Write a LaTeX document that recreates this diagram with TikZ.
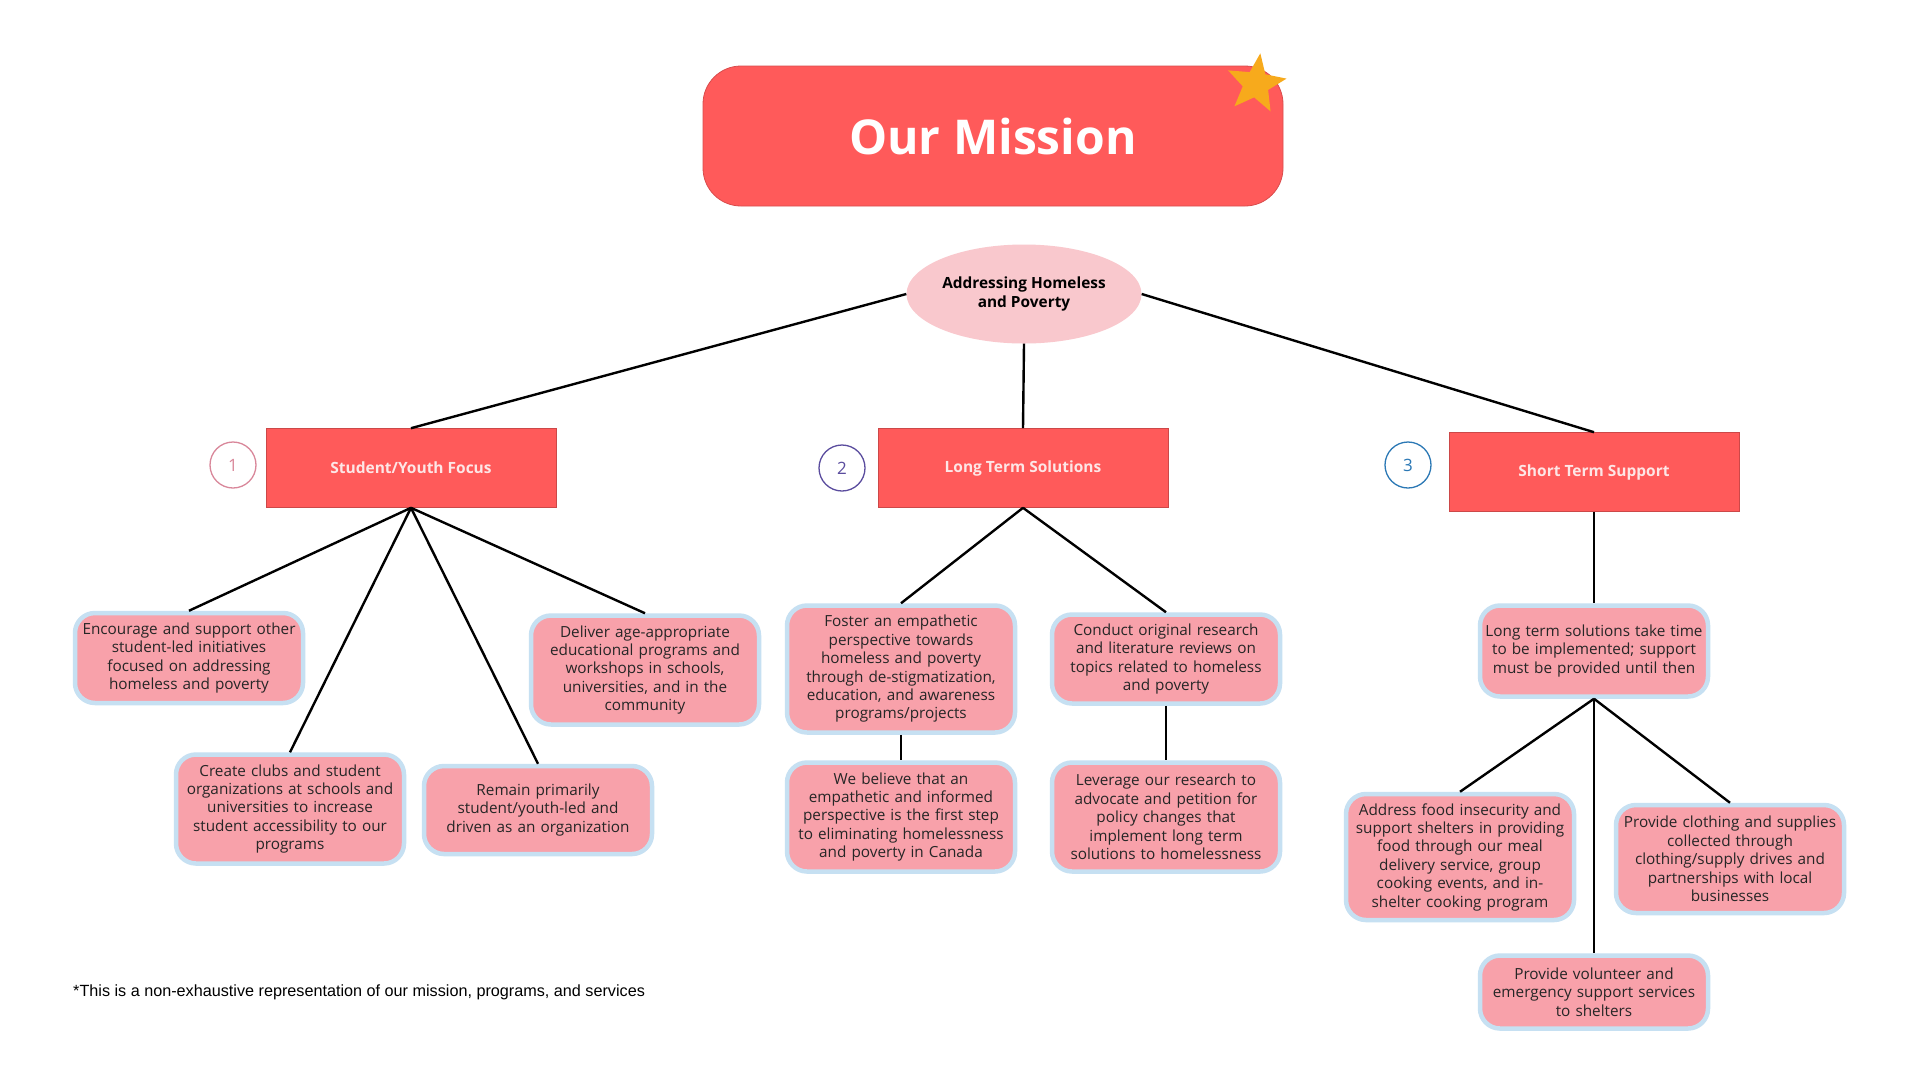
\documentclass[tikz,border=0pt]{standalone}
\usepackage{fontspec}
\setmainfont{Open Sans}
\newfontfamily\notefont{Liberation Sans}
\usetikzlibrary{shapes.geometric}
\definecolor{mainred}{HTML}{FF5A5A}
\definecolor{leafpink}{HTML}{F8A1AA}
\definecolor{leafblue}{HTML}{C6E0F2}
\definecolor{ellpink}{HTML}{F9C8CD}
\definecolor{starorange}{HTML}{F7AA1C}
\definecolor{numpink}{HTML}{D9879A}
\definecolor{numpurple}{HTML}{5A4C9E}
\definecolor{numblue}{HTML}{2B78B5}
\definecolor{labeltext}{HTML}{FDE6E6}
\begin{document}
\begin{tikzpicture}[x=1pt,y=-1pt,
 leaf/.style={rounded corners=20pt, fill=leafpink, draw=leafblue, line width=4.5pt, minimum width=228pt, text width=226pt, align=center, inner sep=0pt, font=\fontsize{15.3}{18.4}\selectfont, text=black!85},
 cat/.style={fill=mainred, draw=mainred!80!black, line width=0.6pt, minimum width=290pt, minimum height=79pt, text=labeltext, font=\fontsize{15.5}{18}\selectfont\bfseries},
 num/.style={circle, draw, line width=1.3pt, minimum size=46pt, inner sep=0pt, font=\fontsize{17}{20}\selectfont},
 conn/.style={line width=2.4pt, black}
]
\useasboundingbox[fill=white] (0,0) rectangle (1920,1080);
% title
\node[fill=mainred, draw=mainred!85!black, line width=0.8pt, rounded corners=38pt, minimum width=580pt, minimum height=140pt, text=white, font=\fontsize{48}{56}\selectfont\bfseries] (title) at (993,136) {Our Mission};
\node[star, star points=5, star point ratio=2.3, fill=starorange, minimum size=62pt, inner sep=0pt, rotate=-8] (star) at (1256,84) {};
% root
\node[ellipse, fill=ellpink, minimum width=235pt, minimum height=99pt, inner sep=0pt, align=center, font=\fontsize{15.4}{18.5}\selectfont\bfseries] (root) at (1024,294) {Addressing Homeless\\and Poverty};
% categories
\node[cat] (c1) at (411,468) {Student/Youth Focus};
\node[cat] (c2) at (1023,468) {Long Term Solutions};
\node[cat] (c3) at (1594,472) {Short Term Support};
\node[num, draw=numpink, text=numpink] (n1) at (233,465) {1};
\node[num, draw=numpurple, text=numpurple] (n2) at (842,468) {2};
\node[num, draw=numblue, text=numblue] (n3) at (1408,465) {3};
% leaves
\node[leaf, minimum height=90pt] (a1) at (189,658) {Encourage and support other\\student-led initiatives\\focused on addressing\\homeless and poverty};
\node[leaf, minimum height=109pt] (a2) at (645,670) {Deliver age-appropriate\\educational programs and\\workshops in schools,\\universities, and in the\\community};
\node[leaf, minimum height=109pt] (a3) at (290,809) {Create clubs and student\\organizations at schools and\\universities to increase\\student accessibility to our\\programs};
\node[leaf, minimum height=88pt] (a4) at (538,810) {Remain primarily\\student/youth-led and\\driven as an organization};
\node[leaf, minimum height=127pt] (b1) at (901,669) {Foster an empathetic\\perspective towards\\homeless and poverty\\through de-stigmatization,\\education, and awareness\\programs/projects};
\node[leaf, minimum height=89pt] (b2) at (1166,659) {Conduct original research\\and literature reviews on\\topics related to homeless\\and poverty};
\node[leaf, minimum height=109pt] (b3) at (901,817) {We believe that an\\empathetic and informed\\perspective is the first step\\to eliminating homelessness\\and poverty in Canada};
\node[leaf, minimum height=109pt] (b4) at (1166,817) {Leverage our research to\\advocate and petition for\\policy changes that\\implement long term\\solutions to homelessness};
\node[leaf, minimum height=91pt] (d1) at (1594,651) {Long term solutions take time\\to be implemented; support\\must be provided until then};
\node[leaf, minimum height=126pt] (d2) at (1460,857) {Address food insecurity and\\support shelters in providing\\food through our meal\\delivery service, group\\cooking events, and in-\\shelter cooking program};
\node[leaf, minimum height=108pt] (d3) at (1730,859) {Provide clothing and supplies\\collected through\\clothing/supply drives and\\partnerships with local\\businesses};
\node[leaf, minimum height=73pt] (d4) at (1594,992) {Provide volunteer and\\emergency support services\\to shelters};
% connectors
\draw[conn] (root.west) -- (c1.north);
\draw[conn] (root.east) -- (c3.north);
\draw[conn] (root.south) -- (c2.north);
\foreach \t in {a1,a2,a3,a4} \draw[conn] (c1.south) -- (\t.north);
\draw[conn] (c2.south) -- (b1.north);
\draw[conn] (c2.south) -- (b2.north);
\draw[conn] (b1.south) -- (b3.north);
\draw[conn] (b2.south) -- (b4.north);
\draw[conn] (c3.south) -- (d1.north);
\foreach \t in {d2,d3,d4} \draw[conn] (d1.south) -- (\t.north);
% footnote
\node[anchor=west, inner sep=0pt, font=\notefont\fontsize{16.2}{19}\selectfont] (note) at (73,992) {*This is a non-exhaustive representation of our mission, programs, and services};
\end{tikzpicture}
\end{document}
